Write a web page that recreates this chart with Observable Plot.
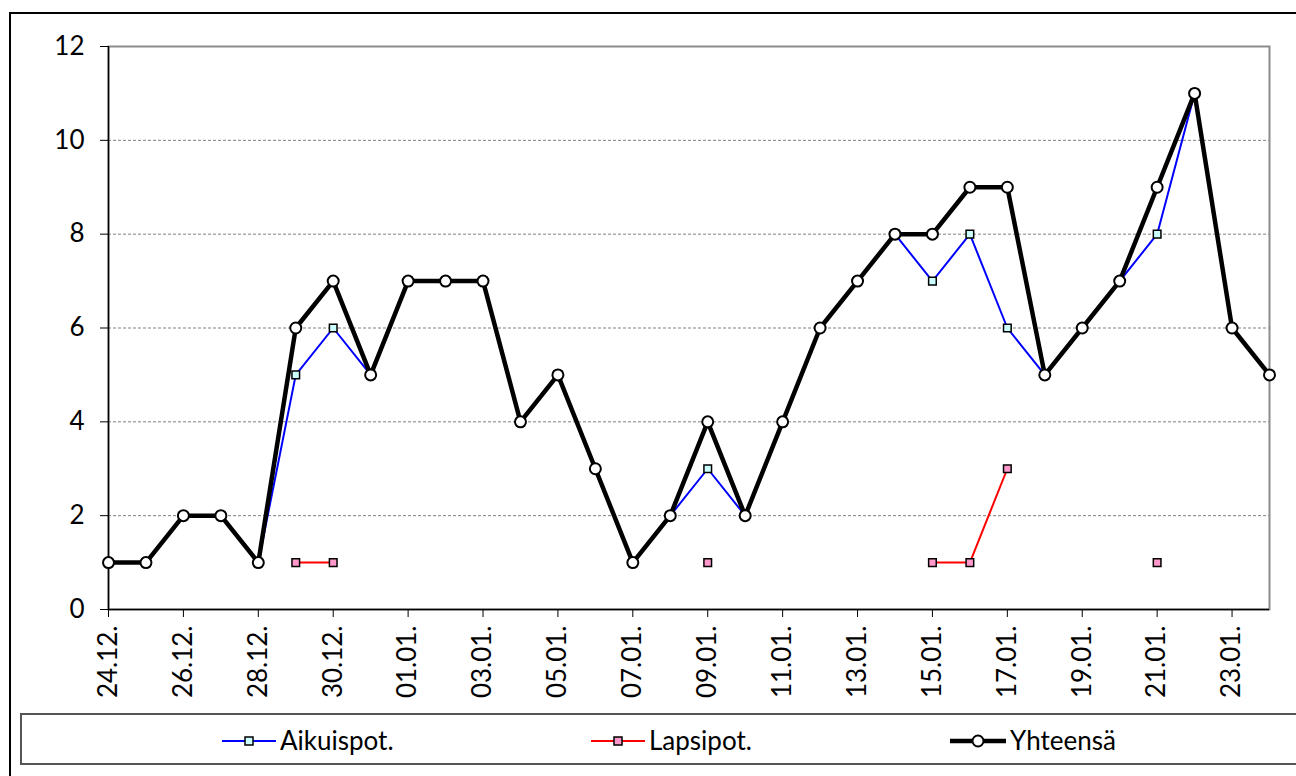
<!DOCTYPE html>
<html><head><meta charset="utf-8">
<script src="https://cdn.jsdelivr.net/npm/d3@7"></script>
<script src="https://cdn.jsdelivr.net/npm/@observablehq/plot@0.6"></script>
<style>
body{margin:0;background:#fff;width:1296px;height:776px;overflow:hidden;position:relative;font-family:Lato,"Open Sans",sans-serif}
#frame{position:absolute;left:9px;top:12px;width:1400px;height:900px;border:2px solid #000}
#chart{position:absolute;left:0;top:0}
#legend{position:absolute;left:20px;top:713px;width:1400px;height:52px;border:2px solid #555;box-sizing:border-box}
#legsvg{position:absolute;left:0;top:0}
</style></head>
<body>
<div id="frame"></div>
<div id="chart"></div>
<div id="legend"></div>
<svg id="legsvg" width="1296" height="776"></svg>
<script>
const dates = ["24.12.","25.12.","26.12.","27.12.","28.12.","29.12.","30.12.","31.12.",
  "01.01.","02.01.","03.01.","04.01.","05.01.","06.01.","07.01.","08.01.","09.01.","10.01.",
  "11.01.","12.01.","13.01.","14.01.","15.01.","16.01.","17.01.","18.01.","19.01.","20.01.",
  "21.01.","22.01.","23.01.","24.01."];
const aikuispot = [1,1,2,2,1,5,6,5,7,7,7,4,5,3,1,2,3,2,4,6,7,8,7,8,6,5,6,7,8,11,6,5];
const lapsipot  = [null,null,null,null,null,1,1,null,null,null,null,null,null,null,null,null,1,null,
  null,null,null,null,1,1,3,null,null,null,1,null,null,null];
const yhteensa  = [1,1,2,2,1,6,7,5,7,7,7,4,5,3,1,2,4,2,4,6,7,8,8,9,9,5,6,7,9,11,6,5];
const yTicks = [0,2,4,6,8,10,12];
const seriesNames = ["Aikuispot.","Lapsipot.","Yhteensä"];

const data = dates.map((d,i)=>({i, a:aikuispot[i], l:lapsipot[i], t:yhteensa[i]}));
const xTicks = dates.map((d,i)=>i).filter(i=>i%2===0);
const FONT = "Lato, 'Open Sans', sans-serif";

const chart = Plot.plot({
  width:1296, height:710,
  marginLeft:108, marginRight:27, marginTop:46, marginBottom:101,
  style:{fontFamily:FONT, fontSize:"26px", color:"#000", background:"transparent"},
  x:{domain:[0,dates.length-1]},
  y:{domain:[0,12]},
  marks:[
    Plot.gridY([2,4,6,8,10],{stroke:"#808080",strokeOpacity:1,strokeDasharray:"3,2",strokeWidth:1}),
    Plot.frame({stroke:"#8c8c8c",strokeWidth:2}),
    Plot.ruleX([0],{stroke:"#000",strokeWidth:1.5}),
    Plot.ruleY([0],{stroke:"#000",strokeWidth:1.5}),
    Plot.axisY({ticks:yTicks,tickSize:8,tickPadding:16,fontSize:26,label:null,stroke:"#000"}),
    Plot.axisX({ticks:xTicks,tickFormat:i=>dates[i],tickRotate:-90,tickSize:8,tickPadding:8,fontSize:26,label:null}),
    Plot.line(data,{x:"i",y:"a",stroke:"#0000ff",strokeWidth:2}),
    Plot.dot(data,{x:"i",y:"a",symbol:"square",r:4.3,fill:"#ccffff",stroke:"#000",strokeWidth:1.5}),
    Plot.line(data,{x:"i",y:"l",stroke:"#ff0000",strokeWidth:2}),
    Plot.dot(data,{x:"i",y:"l",symbol:"square",r:4.3,fill:"#ff99cc",stroke:"#000",strokeWidth:1.5}),
    Plot.line(data,{x:"i",y:"t",stroke:"#000",strokeWidth:4.5}),
    Plot.dot(data,{x:"i",y:"t",symbol:"circle",r:5.5,fill:"#fff",stroke:"#000",strokeWidth:2})
  ]
});
document.getElementById("chart").appendChild(chart);

// legend
const leg = d3.select("#legsvg");
const legItems = [
  {name:seriesNames[0], x0:222, x1:276, stroke:"#0000ff", sw:2, sym:"square", fill:"#ccffff"},
  {name:seriesNames[1], x0:591, x1:645, stroke:"#ff0000", sw:2, sym:"square", fill:"#ff99cc"},
  {name:seriesNames[2], x0:950, x1:1006, stroke:"#000", sw:4.5, sym:"circle", fill:"#fff"}
];
const ly = 741;
legItems.forEach(it=>{
  leg.append("line").attr("x1",it.x0).attr("x2",it.x1).attr("y1",ly).attr("y2",ly)
    .attr("stroke",it.stroke).attr("stroke-width",it.sw);
  const cx=(it.x0+it.x1)/2;
  if(it.sym==="square"){
    leg.append("rect").attr("x",cx-4).attr("y",ly-4).attr("width",8).attr("height",8)
      .attr("fill",it.fill).attr("stroke","#000").attr("stroke-width",1.5);
  } else {
    leg.append("circle").attr("cx",cx).attr("cy",ly).attr("r",5.5)
      .attr("fill",it.fill).attr("stroke","#000").attr("stroke-width",2);
  }
  leg.append("text").attr("x",it.x1+4).attr("y",ly).attr("dy","0.35em")
    .attr("font-size",26).attr("font-family",FONT).text(it.name);
});
</script>
</body></html>
